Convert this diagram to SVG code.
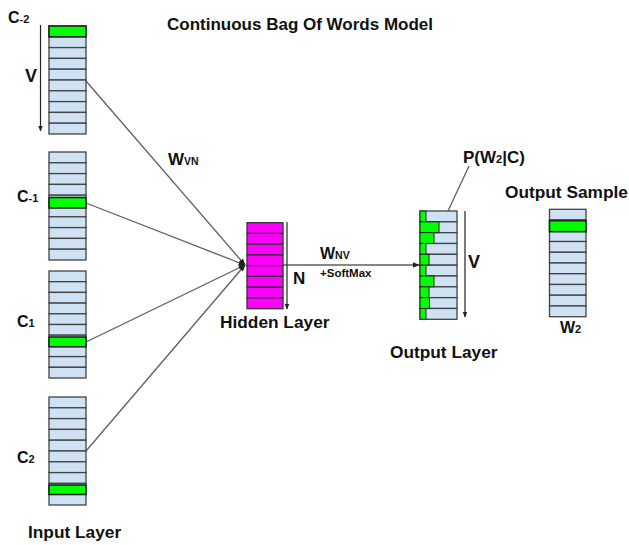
<svg xmlns="http://www.w3.org/2000/svg" width="629" height="545" viewBox="0 0 629 545">
  <defs>
    <style>
      .cell { fill: #cfe2f3; stroke: #434343; stroke-width: 1.3; }
      .hot { fill: #00ff00; stroke: #222; stroke-width: 1.6; }
      .bar { fill: #00ff00; stroke: #222; stroke-width: 1; }
      .hid { fill: #ff00ff; stroke: #333; stroke-width: 1.3; }
      .wire { stroke: #5f5f5f; stroke-width: 1.3; fill: none; }
      .axis { stroke: #222; stroke-width: 1.2; fill: none; }
      text { font-family: "Liberation Sans", Arial, sans-serif; font-weight: bold; fill: #111; }
      .lbl { font-size: 17.3px; }
    </style>
    <marker id="tip" viewBox="0 0 10 10" refX="9" refY="5" markerWidth="7" markerHeight="7" orient="auto" markerUnits="userSpaceOnUse">
      <path d="M0,1 L10,5 L0,9 z" fill="#222"/>
    </marker>
    <marker id="tipS" viewBox="0 0 10 10" refX="9" refY="5" markerWidth="6" markerHeight="6" orient="auto" markerUnits="userSpaceOnUse">
      <path d="M0,1 L10,5 L0,9 z" fill="#222"/>
    </marker>
  </defs>

  <rect width="629" height="545" fill="#ffffff"/>

  <text id="title" x="167" y="30" font-size="17">Continuous Bag Of Words Model</text>

  <!-- connectors -->
  <g id="connectors">
    <line class="wire" x1="86" y1="81" x2="245" y2="265" marker-end="url(#tip)"/>
    <line class="wire" x1="86" y1="203" x2="245" y2="265" marker-end="url(#tip)"/>
    <line class="wire" x1="86" y1="342" x2="245" y2="265" marker-end="url(#tip)"/>
    <line class="wire" x1="86" y1="451" x2="245" y2="265" marker-end="url(#tip)"/>
    <line class="wire" x1="283" y1="265" x2="419" y2="265" marker-end="url(#tip)"/>
    <line class="wire" x1="469" y1="166" x2="441" y2="226" marker-end="url(#tip)"/>
  </g>

  <!-- input word C-2 -->
  <g id="input-c-2">
    <text x="8" y="22.5" font-size="16">C<tspan font-size="11">-2</tspan></text>
    <line class="axis" x1="40.5" y1="25" x2="40.5" y2="131" marker-end="url(#tipS)"/>
    <text x="25" y="82" font-size="18">V</text>
    <rect class="cell" x="49" y="26" width="37" height="10.8"/>
    <rect class="cell" x="49" y="36.8" width="37" height="10.8"/>
    <rect class="cell" x="49" y="47.6" width="37" height="10.8"/>
    <rect class="cell" x="49" y="58.4" width="37" height="10.8"/>
    <rect class="cell" x="49" y="69.2" width="37" height="10.8"/>
    <rect class="cell" x="49" y="80" width="37" height="10.8"/>
    <rect class="cell" x="49" y="90.8" width="37" height="10.8"/>
    <rect class="cell" x="49" y="101.6" width="37" height="10.8"/>
    <rect class="cell" x="49" y="112.4" width="37" height="10.8"/>
    <rect class="cell" x="49" y="123.2" width="37" height="10.8"/>
    <rect class="hot" x="49" y="26" width="37" height="10.8"/>
  </g>

  <!-- input word C-1 -->
  <g id="input-c-1">
    <text x="17" y="202" font-size="16">C<tspan font-size="11">-1</tspan></text>
    <rect class="cell" x="49" y="152" width="37" height="10.8"/>
    <rect class="cell" x="49" y="162.8" width="37" height="10.8"/>
    <rect class="cell" x="49" y="173.6" width="37" height="10.8"/>
    <rect class="cell" x="49" y="184.4" width="37" height="10.8"/>
    <rect class="cell" x="49" y="195.2" width="37" height="10.8"/>
    <rect class="cell" x="49" y="206" width="37" height="10.8"/>
    <rect class="cell" x="49" y="216.8" width="37" height="10.8"/>
    <rect class="cell" x="49" y="227.6" width="37" height="10.8"/>
    <rect class="cell" x="49" y="238.4" width="37" height="10.8"/>
    <rect class="cell" x="49" y="249.2" width="37" height="10.8"/>
    <rect class="hot" x="49" y="197.5" width="37" height="10.5"/>
  </g>

  <!-- input word C1 -->
  <g id="input-c1">
    <text x="17" y="327" font-size="16">C<tspan font-size="11">1</tspan></text>
    <rect class="cell" x="49" y="271" width="37" height="10.7"/>
    <rect class="cell" x="49" y="281.7" width="37" height="10.7"/>
    <rect class="cell" x="49" y="292.4" width="37" height="10.7"/>
    <rect class="cell" x="49" y="303.1" width="37" height="10.7"/>
    <rect class="cell" x="49" y="313.8" width="37" height="10.7"/>
    <rect class="cell" x="49" y="324.5" width="37" height="10.7"/>
    <rect class="cell" x="49" y="335.2" width="37" height="10.7"/>
    <rect class="cell" x="49" y="345.9" width="37" height="10.7"/>
    <rect class="cell" x="49" y="356.6" width="37" height="10.7"/>
    <rect class="cell" x="49" y="367.3" width="37" height="10.7"/>
    <rect class="hot" x="49" y="337" width="37" height="9.8"/>
  </g>

  <!-- input word C2 -->
  <g id="input-c2">
    <text x="17" y="463" font-size="16">C<tspan font-size="11">2</tspan></text>
    <rect class="cell" x="49" y="397" width="37" height="10.8"/>
    <rect class="cell" x="49" y="407.8" width="37" height="10.8"/>
    <rect class="cell" x="49" y="418.6" width="37" height="10.8"/>
    <rect class="cell" x="49" y="429.4" width="37" height="10.8"/>
    <rect class="cell" x="49" y="440.2" width="37" height="10.8"/>
    <rect class="cell" x="49" y="451" width="37" height="10.8"/>
    <rect class="cell" x="49" y="461.8" width="37" height="10.8"/>
    <rect class="cell" x="49" y="472.6" width="37" height="10.8"/>
    <rect class="cell" x="49" y="483.4" width="37" height="10.8"/>
    <rect class="cell" x="49" y="494.2" width="37" height="10.8"/>
    <rect class="hot" x="49" y="485" width="37" height="9.5"/>
    <text class="lbl" x="28" y="538">Input Layer</text>
  </g>

  <text id="w-vn" x="168" y="165" font-size="17">W<tspan font-size="10.5">VN</tspan></text>

  <!-- hidden layer -->
  <g id="hidden">
    <rect class="hid" x="247" y="222.7" width="36" height="10.75"/>
    <rect class="hid" x="247" y="233.45" width="36" height="10.75"/>
    <rect class="hid" x="247" y="244.2" width="36" height="10.75"/>
    <rect class="hid" x="247" y="254.95" width="36" height="10.75"/>
    <rect class="hid" x="247" y="265.7" width="36" height="10.75"/>
    <rect class="hid" x="247" y="276.45" width="36" height="10.75"/>
    <rect class="hid" x="247" y="287.2" width="36" height="10.75"/>
    <rect class="hid" x="247" y="297.95" width="36" height="10.75"/>
    <line class="axis" x1="287" y1="222" x2="287" y2="309" marker-end="url(#tipS)"/>
    <text x="293" y="284" font-size="17">N</text>
    <text class="lbl" x="220" y="328">Hidden Layer</text>
  </g>

  <text id="w-nv" x="320" y="259" font-size="16">W<tspan font-size="10.5">NV</tspan></text>
  <text id="softmax" x="320" y="276.5" font-size="11.5">+SoftMax</text>

  <!-- output layer with softmax probabilities -->
  <g id="output">
    <rect class="cell" x="420" y="211" width="37" height="10.83"/>
    <rect class="cell" x="420" y="221.83" width="37" height="10.83"/>
    <rect class="cell" x="420" y="232.66" width="37" height="10.83"/>
    <rect class="cell" x="420" y="243.49" width="37" height="10.83"/>
    <rect class="cell" x="420" y="254.32" width="37" height="10.83"/>
    <rect class="cell" x="420" y="265.15" width="37" height="10.83"/>
    <rect class="cell" x="420" y="275.98" width="37" height="10.83"/>
    <rect class="cell" x="420" y="286.81" width="37" height="10.83"/>
    <rect class="cell" x="420" y="297.64" width="37" height="10.83"/>
    <rect class="cell" x="420" y="308.47" width="37" height="10.83"/>
    <rect class="bar" x="420" y="211" width="6" height="10.83"/>
    <rect class="bar" x="420" y="221.83" width="19" height="10.83"/>
    <rect class="bar" x="420" y="232.66" width="14" height="10.83"/>
    <rect class="bar" x="420" y="243.49" width="6" height="10.83"/>
    <rect class="bar" x="420" y="254.32" width="9" height="10.83"/>
    <rect class="bar" x="420" y="265.15" width="6" height="10.83"/>
    <rect class="bar" x="420" y="275.98" width="14" height="10.83"/>
    <rect class="bar" x="420" y="286.81" width="9" height="10.83"/>
    <rect class="bar" x="420" y="297.64" width="9.5" height="10.83"/>
    <rect class="bar" x="420" y="308.47" width="6" height="10.83"/>
    <line class="axis" x1="465" y1="211" x2="465" y2="317" marker-end="url(#tipS)"/>
    <text x="468" y="268" font-size="18">V</text>
    <text x="463" y="163" font-size="17">P(W<tspan font-size="11">2</tspan>|C)</text>
    <text class="lbl" x="390" y="358">Output Layer</text>
  </g>

  <!-- sampled output word -->
  <g id="sample">
    <text class="lbl" x="505" y="198">Output Sample</text>
    <rect class="cell" x="549.5" y="209.3" width="36.5" height="10.74"/>
    <rect class="cell" x="549.5" y="220.04" width="36.5" height="10.74"/>
    <rect class="cell" x="549.5" y="230.78" width="36.5" height="10.74"/>
    <rect class="cell" x="549.5" y="241.52" width="36.5" height="10.74"/>
    <rect class="cell" x="549.5" y="252.26" width="36.5" height="10.74"/>
    <rect class="cell" x="549.5" y="263" width="36.5" height="10.74"/>
    <rect class="cell" x="549.5" y="273.74" width="36.5" height="10.74"/>
    <rect class="cell" x="549.5" y="284.48" width="36.5" height="10.74"/>
    <rect class="cell" x="549.5" y="295.22" width="36.5" height="10.74"/>
    <rect class="cell" x="549.5" y="305.96" width="36.5" height="10.74"/>
    <rect class="hot" x="549.5" y="220.7" width="36.5" height="11"/>
    <text x="560" y="333" font-size="16">W<tspan font-size="11">2</tspan></text>
  </g>
</svg>
